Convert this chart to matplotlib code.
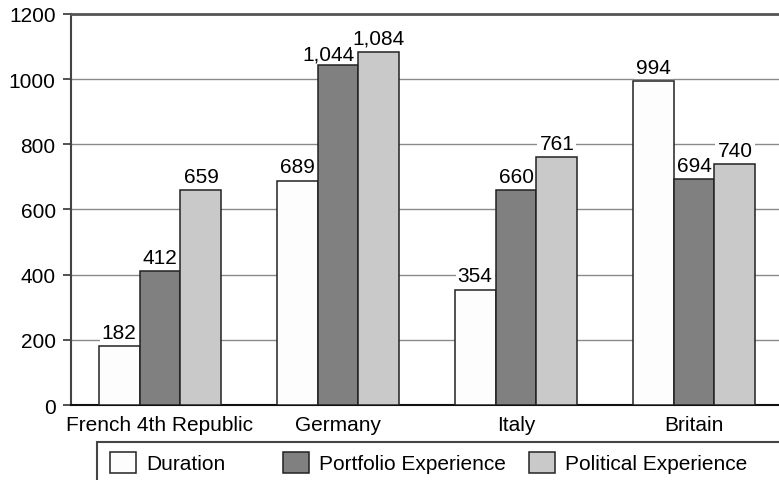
import matplotlib
matplotlib.use('Agg')
import matplotlib.pyplot as plt
from matplotlib.patches import Rectangle
import numpy as np

COUNTRIES = ['French 4th Republic', 'Germany', 'Italy', 'Britain']
SERIES = ['Duration', 'Portfolio Experience', 'Political Experience']
DURATION = [182, 689, 354, 994]
PORTFOLIO = [412, 1044, 660, 694]
POLITICAL = [659, 1084, 761, 740]
COLORS = ['#fdfdfd', '#808080', '#c9c9c9']
# label nudges (points) for crowded labels: (series, country) -> (dx, dy)
NUDGE = {(1, 1): (-7, -2)}

plt.rcParams['font.family'] = ['Liberation Sans', 'DejaVu Sans']
FS = 15

W, H = 779, 481
fig = plt.figure(figsize=(W / 100, H / 100), dpi=100)
ax = fig.add_axes([71 / W, 1 - 406 / H, 712 / W, 391 / H])

x = np.arange(len(COUNTRIES))
w = 0.23
bars = []
for i, (name, vals) in enumerate(zip(SERIES, [DURATION, PORTFOLIO, POLITICAL])):
    b = ax.bar(x + (i - 1) * w, vals, w, color=COLORS[i], edgecolor='#222222',
               linewidth=1.1, label=name, zorder=3)
    bars.append(b)
    for j, (xi, v) in enumerate(zip(x + (i - 1) * w, vals)):
        dx, dy = NUDGE.get((i, j), (0, 0))
        ax.annotate(f'{v:,}', (xi, v), xytext=(dx, 3 + dy),
                    textcoords='offset points', ha='center', va='bottom',
                    fontsize=FS, zorder=2.5,
                    bbox=dict(boxstyle='square,pad=0.1', fc='white', ec='none'))

ax.set_xlim(-0.5, 3.5)
ax.set_ylim(0, 1200)
ax.set_yticks(range(0, 1201, 200))
ax.set_xticks(x)
ax.set_xticklabels(COUNTRIES)
ax.tick_params(axis='y', labelsize=FS, length=6, width=1.2, color='#333333', pad=5)
ax.tick_params(axis='x', labelsize=FS, length=0, pad=7)
ax.grid(axis='y', color='#8a8a8a', linewidth=1.0, zorder=0)
ax.set_axisbelow(True)
ax.spines['top'].set_color('#555555')
ax.spines['top'].set_linewidth(2)
ax.spines['left'].set_color('#444444')
ax.spines['left'].set_linewidth(1.5)
ax.spines['bottom'].set_color('#111111')
ax.spines['bottom'].set_linewidth(1.5)
ax.spines['right'].set_visible(False)

# legend frame, running off the bottom and right edges
fig.patches.append(Rectangle((97 / W, -0.05), 1.0, 0.05 + (481 - 443) / H,
                             transform=fig.transFigure, facecolor='none',
                             edgecolor='#444444', linewidth=1.5))
handle_x = [110, 283, 529]
for b, name, hx in zip(bars, SERIES, handle_x):
    fig.legend(handles=[b], labels=[name], loc='center left',
               bbox_to_anchor=(hx / W, 1 - 463.5 / H), frameon=False,
               borderpad=0, borderaxespad=0, fontsize=FS,
               handlelength=1.25, handleheight=1.2, handletextpad=0.5)

fig.savefig('out.png', dpi=100)
